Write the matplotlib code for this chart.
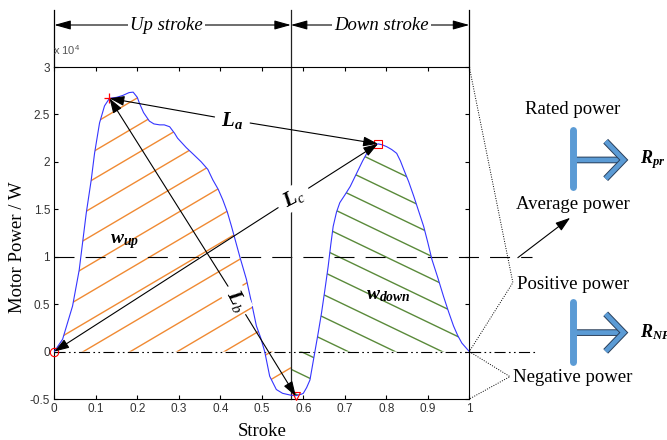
import matplotlib
matplotlib.use('Agg')
import matplotlib.pyplot as plt
import matplotlib.patheffects as pe
from matplotlib.lines import Line2D
from matplotlib.patches import FancyArrowPatch
from matplotlib.transforms import IdentityTransform

plt.rcParams['mathtext.fontset'] = 'custom'
plt.rcParams['mathtext.rm'] = 'Liberation Serif'
plt.rcParams['mathtext.it'] = 'Liberation Serif:italic'
plt.rcParams['mathtext.bf'] = 'Liberation Serif:bold'
plt.rcParams['mathtext.bfit'] = 'Liberation Serif:italic:bold'
plt.rcParams['mathtext.sf'] = 'Liberation Sans'

# motor power over one stroke (units of 1e4 W)
stroke = [0, 0.02, 0.044, 0.06, 0.077, 0.089, 0.097, 0.109, 0.121, 0.133,
          0.15, 0.165, 0.18, 0.19, 0.2, 0.205, 0.215, 0.229, 0.24, 0.254,
          0.265, 0.278, 0.29, 0.297, 0.318, 0.335, 0.354, 0.37, 0.382, 0.395,
          0.406, 0.417, 0.427, 0.437, 0.447, 0.463, 0.475, 0.487, 0.497, 0.507,
          0.519, 0.535, 0.55, 0.56, 0.57, 0.582, 0.595, 0.6, 0.608, 0.616,
          0.622, 0.628, 0.636, 0.644, 0.652, 0.66, 0.666, 0.672, 0.68, 0.688,
          0.7, 0.713, 0.723, 0.733, 0.743, 0.753, 0.765, 0.78, 0.79, 0.801,
          0.813, 0.825, 0.834, 0.842, 0.854, 0.866, 0.878, 0.89, 0.9, 0.91,
          0.924, 0.938, 0.95, 0.962, 0.972, 0.982, 0.992, 1.0]
power = [0, 0.13, 0.48, 0.86, 1.46, 1.81, 2.09, 2.41, 2.59, 2.67,
         2.68, 2.70, 2.73, 2.735, 2.68, 2.62, 2.52, 2.43, 2.40, 2.39,
         2.39, 2.37, 2.30, 2.25, 2.15, 2.08, 2.0, 1.92, 1.81, 1.71,
         1.60, 1.47, 1.32, 1.16, 1.0, 0.76, 0.52, 0.27, 0.15, 0.0,
         -0.26, -0.40, -0.44, -0.45, -0.46, -0.465, -0.45, -0.44, -0.38, -0.3,
         -0.15, 0.0, 0.2, 0.41, 0.65, 0.9, 1.12, 1.32, 1.47, 1.57,
         1.65, 1.74, 1.83, 1.92, 2.01, 2.09, 2.15, 2.19, 2.18, 2.16,
         2.13, 2.09, 2.01, 1.92, 1.79, 1.64, 1.48, 1.32, 1.15, 0.97,
         0.78, 0.58, 0.42, 0.27, 0.17, 0.09, 0.04, 0]

split_x = 0.57          # end of up stroke
avg_power = 1.0
peak_up = (0.133, 2.67)
peak_down = (0.78, 2.19)
valley = (0.582, -0.47)
start_pt = (0, 0)

xticks = [0, 0.1, 0.2, 0.3, 0.4, 0.5, 0.6, 0.7, 0.8, 0.9, 1]
xticklabels = ['0', '0.1', '0.2', '0.3', '0.4', '0.5', '0.6', '0.7', '0.8', '0.9', '1']
yticks = [-0.5, 0, 0.5, 1, 1.5, 2, 2.5, 3]
yticklabels = ['-0.5', '0', '0.5', '1', '1.5', '2', '2.5', '3']

SERIF = 'Liberation Serif'
SANS = 'Liberation Sans'

fig = plt.figure(figsize=(6.67, 4.4), dpi=100)
ax = fig.add_axes([54.3 / 667, 41 / 440, 415 / 667, 332 / 440])
ax.set_xlim(0, 1)
ax.set_ylim(-0.5, 3)
ax.set_xticks(xticks)
ax.set_xticklabels(xticklabels)
ax.set_yticks(yticks)
ax.set_yticklabels(yticklabels)
ax.tick_params(direction='in', length=3, width=0.8, top=True, right=True,
               labelsize=8.5, labelcolor='#333333', pad=3)
for lab in ax.get_xticklabels() + ax.get_yticklabels():
    lab.set_family(SANS)
for s in ax.spines.values():
    s.set_linewidth(0.8)

# hatched areas
k = stroke.index(split_x)
up = ax.fill_between(stroke[:k + 1], power[:k + 1], 0, facecolor='none', edgecolor='none')
down = ax.fill_between(stroke[k:], power[k:], 0, facecolor='none', edgecolor='none')


def hatch(coll, color, x_start, step_px, slope):
    # slanted hatch lines in pixel space, clipped to the filled area
    path = coll.get_paths()[0]
    x0, y0 = ax.transData.transform((x_start, 0))
    for i in range(-25, 26):
        xi = x0 + i * step_px
        ln = Line2D([xi - 800, xi + 800], [y0 - 800 * slope, y0 + 800 * slope],
                    transform=IdentityTransform(), color=color, lw=1.0, zorder=1)
        ln.set_clip_path(path, ax.transData)
        ax.add_artist(ln)


hatch(up, '#F08A33', 0.07, 47, 0.59)
hatch(down, '#5A8A3A', 0.708, 47, -0.48)

# reference lines
ax.plot([0, 1.151], [avg_power, avg_power], color='k', lw=0.8,
        linestyle=(0, (18, 10)), clip_on=False, zorder=2)
ax.plot([0, 1.163], [0, 0], color='k', lw=0.8,
        linestyle=(0, (10, 3, 1.5, 3, 1.5, 3)), clip_on=False, zorder=2)

ax.plot(stroke, power, color='#3535ff', lw=0.8, zorder=3)

# stroke dividers and top arrows
xt = ax.get_xaxis_transform()
ax.plot([split_x, split_x], [0, 1.172], transform=xt, color='#222222', lw=0.9, clip_on=False, zorder=2)
ax.plot([0, 0], [1, 1.172], transform=xt, color='k', lw=0.9, clip_on=False)
ax.plot([1, 1], [1, 1.172], transform=xt, color='k', lw=0.9, clip_on=False)
head = '<|-|>,head_length=1.0,head_width=0.28'
for a, b, lab, xc in [(0, split_x, 'Up stroke', 0.27), (split_x, 1, 'Down stroke', 0.789)]:
    ax.annotate('', xy=(a, 1.1265), xytext=(b, 1.1265), xycoords=xt, textcoords=xt,
                arrowprops=dict(arrowstyle=head, color='k', lw=0.8, shrinkA=0, shrinkB=0,
                                mutation_scale=10), annotation_clip=False)
    ax.text(xc, 1.1265, lab, transform=xt, ha='center', va='center', family=SERIF,
            style='italic', fontsize=13.5,
            bbox=dict(facecolor='white', edgecolor='none', pad=1.5))

ax.text(-0.003, 1.03, r'x 10$^{\mathsf{4}}$', transform=ax.transAxes, ha='left', va='bottom',
        family=SANS, fontsize=8, color='#555555')

# markers
ax.plot(*peak_up, marker='+', color='red', ms=7, mew=0.9, zorder=5, clip_on=False)
ax.plot(*peak_down, marker='s', mfc='none', mec='red', ms=6, mew=0.8, zorder=5)
ax.plot(*valley, marker='v', mfc='none', mec='red', ms=6, mew=0.8, zorder=5, clip_on=False)
ax.plot(*start_pt, marker='o', mfc='none', mec='red', ms=6, mew=0.8, zorder=5, clip_on=False)

# L_a, L_b, L_c dimension arrows
ahead = '-|>,head_length=0.9,head_width=0.3'


def dim(p1, p2, pos, label, rot, gap, box):
    for p in (p1, p2):
        ax.annotate('', xy=p, xytext=pos,
                    arrowprops=dict(arrowstyle=ahead, color='k', lw=0.8, shrinkA=gap,
                                    shrinkB=0, mutation_scale=10),
                    annotation_clip=False, zorder=6)
    kw = dict(facecolor='white', edgecolor='none', pad=1) if box else None
    ax.text(*pos, label, ha='center', va='center', fontsize=15, rotation=rot, bbox=kw, zorder=6)


dim(peak_up, peak_down, (0.429, 2.44), r'$\mathbfit{L}_{\mathbfit{a}}$', 0, 13, False)
dim(peak_up, valley, (0.440, 0.54), r'$\mathbfit{L}_{\mathit{b}}$', -62, 12, True)
dim(start_pt, peak_down, (0.576, 1.62), r'$\mathbfit{L}_{\mathit{c}}$', 28, 13, True)

ax.text(0.17, 1.16, r'$\mathbfit{w}_{\mathbfit{up}}$', ha='center', va='center', fontsize=14, zorder=6)
ax.text(0.804, 0.6, r'$\mathbfit{w}_{\mathbfit{down}}$', ha='center', va='center', fontsize=14, zorder=6)

# right side annotations
ax.plot([1, 1.105, 1], [3, 0.727, 0], color='k', lw=0.7, linestyle=(0, (1, 1.5)), clip_on=False)
ax.plot([1, 1.098, 1], [0, -0.264, -0.5], color='k', lw=0.7, linestyle=(0, (1, 1.5)), clip_on=False)
ax.annotate('', xy=(1.243, 1.41), xytext=(1.117, 0.99),
            arrowprops=dict(arrowstyle=ahead, color='k', lw=0.8, shrinkA=0, shrinkB=0,
                            mutation_scale=10), annotation_clip=False)

for txt, y in [('Rated power', 2.55), ('Average power', 1.55),
               ('Positive power', 0.706), ('Negative power', -0.274)]:
    ax.text(1.25, y, txt, ha='center', va='center', family=SERIF, fontsize=13.5, clip_on=False)

blue = '#5B9BD5'
for ytop, ybot, ymid, lab in [(2.34, 1.74, 2.02, r'$\mathbfit{R}_{\mathbfit{pr}}$'),
                              (0.52, -0.105, 0.2, r'$\mathbfit{R}_{\mathbfit{NP}}$')]:
    arr = FancyArrowPatch((1.249, ymid), (1.38, ymid), arrowstyle='->,head_length=1.3,head_width=1.35',
                          mutation_scale=10, color=blue, lw=3.4, shrinkA=0, shrinkB=0,
                          clip_on=False, joinstyle='miter', capstyle='butt',
                          path_effects=[pe.Stroke(linewidth=4.8, foreground='#2a3f5a'), pe.Normal()])
    ax.add_patch(arr)
    ax.plot([1.249, 1.249], [ybot, ytop], color=blue, lw=5, solid_capstyle='round', clip_on=False)
    ax.text(1.411, ymid, lab, ha='left', va='center', fontsize=13, clip_on=False)

fig.text(17.5 / 667, 1 - 246.7 / 440, 'Motor Power / W', rotation=90, ha='center', va='center',
         family=SERIF, fontsize=13.5)
fig.text(262 / 667, 1 - 431 / 440, 'Stroke', ha='center', va='center', family=SERIF, fontsize=13.5)

fig.savefig('out.png', dpi=100)
